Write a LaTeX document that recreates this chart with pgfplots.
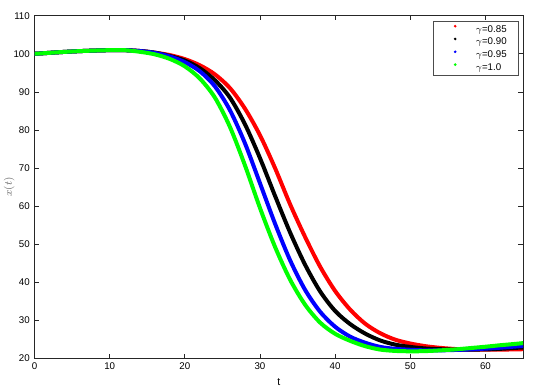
\documentclass[border=0pt]{standalone}
\usepackage{pgfplots}
\pgfplotsset{compat=1.18}
\usepackage{fontspec}
\setmainfont{Liberation Sans}
\usetikzlibrary{calc}
\begin{document}
\begin{tikzpicture}
\begin{axis}[
  scale only axis,
  width=366.4pt, height=257pt,
  xmin=0, xmax=65, ymin=20, ymax=110,
  xtick={0,10,...,60}, ytick={20,30,...,110},
  tick align=inside,
  major tick length=3.5pt,
  minor tick num=0,
  axis line style={line width=0.6pt, black!85},
  every tick/.style={black!85, line width=0.5pt},
  tick label style={font=\fontsize{7.3}{8}\selectfont},
  /pgf/number format/assume math mode=true,
  xlabel={t}, ylabel={$x(t)$},
  xlabel style={font=\fontsize{8}{9}\selectfont, yshift=0pt},
  ylabel style={font=\fontsize{8.5}{9}\selectfont, text=black!60,
    at={(axis description cs:-0.052,0.5)}, anchor=center},
  legend style={at={(rel axis cs:1,1)}, anchor=north east, xshift=-3pt, yshift=-4pt,
    draw=black!70, line width=0.5pt, font=\fontsize{7.3}{8}\selectfont,
    row sep=2.6pt, inner xsep=0pt, inner ysep=2.5pt,
    nodes={inner sep=0pt}},
  legend cell align=left,
]
\addlegendimage{legend image code/.code={\path[draw=none] (0pt,0pt) -- (32pt,0pt); \fill[red, draw=none] (16.5pt,2.6pt) circle (1.1pt);}}
\addlegendentry{$\gamma$=0.85\hspace*{9pt}}
\addlegendimage{legend image code/.code={\path[draw=none] (0pt,0pt) -- (32pt,0pt); \fill[black, draw=none] (16.5pt,2.6pt) circle (1.1pt);}}
\addlegendentry{$\gamma$=0.90\hspace*{9pt}}
\addlegendimage{legend image code/.code={\path[draw=none] (0pt,0pt) -- (32pt,0pt); \fill[blue, draw=none] (16.5pt,2.6pt) circle (1.1pt);}}
\addlegendentry{$\gamma$=0.95\hspace*{9pt}}
\addlegendimage{legend image code/.code={\path[draw=none] (0pt,0pt) -- (32pt,0pt); \fill[green, draw=none] (16.5pt,2.6pt) circle (1.1pt);}}
\addlegendentry{$\gamma$=1.0\hspace*{9pt}}
\addplot[red, line width=3pt, smooth, forget plot] coordinates {
(0,100.0)(2,100.25)(4,100.5)(6,100.7)(8,100.85)(10,100.95)(12,100.95)(14,100.74)(16,100.3)(18,99.66)(20,98.6)(22,96.98)(24,94.6)(26,91.0)(28,85.6)(30,78.6)(32,70.0)(34,60.5)(36,51.9)(38,44.1)(40,37.7)(42,32.8)(44,29.1)(46,26.6)(48,24.9)(50,23.9)(52,23.2)(54,22.75)(56,22.45)(58,22.3)(60,22.3)(62,22.3)(64,22.35)(65,22.4)
};
\addplot[black, line width=3pt, smooth, forget plot] coordinates {
(0,100.0)(2,100.25)(4,100.5)(6,100.7)(8,100.85)(10,100.95)(12,100.95)(14,100.73)(16,100.3)(18,99.43)(20,98.24)(22,96.2)(24,93.07)(26,88.5)(28,81.5)(30,72.6)(32,62.7)(34,53.1)(36,44.6)(38,37.6)(40,32.45)(42,29.0)(44,26.5)(46,24.7)(48,23.6)(50,23.0)(52,22.6)(54,22.4)(56,22.3)(58,22.3)(60,22.35)(62,22.5)(64,22.75)(65,22.85)
};
\addplot[blue, line width=3pt, smooth, forget plot] coordinates {
(0,100.0)(2,100.25)(4,100.5)(6,100.7)(8,100.85)(10,100.95)(12,100.95)(14,100.73)(16,100.23)(18,99.3)(20,97.8)(22,95.4)(24,91.45)(26,85.2)(28,76.5)(30,66.0)(32,55.4)(34,45.8)(36,38.0)(38,32.25)(40,28.3)(42,25.7)(44,24.1)(46,23.0)(48,22.5)(50,22.25)(52,22.1)(54,22.1)(56,22.2)(58,22.35)(60,22.55)(62,22.8)(64,23.1)(65,23.25)
};
\addplot[green, line width=3pt, smooth, forget plot] coordinates {
(0,100.0)(2,100.25)(4,100.5)(6,100.7)(8,100.85)(10,100.95)(12,100.95)(14,100.53)(16,99.86)(18,98.65)(20,96.7)(22,93.5)(24,88.5)(26,80.8)(28,70.7)(30,59.5)(32,49.3)(34,40.7)(36,34.1)(38,29.4)(40,26.45)(42,24.6)(44,23.2)(46,22.3)(48,21.95)(50,21.85)(52,21.9)(54,22.1)(56,22.35)(58,22.7)(60,23.05)(62,23.45)(64,23.8)(65,24.0)
};
\end{axis}
\pgfresetboundingbox
\path[use as bounding box] ($(current axis.south west)+(-25.9pt,-23.8pt)$) rectangle ($(current axis.north east)+(9pt,11.8pt)$);
\end{tikzpicture}
\end{document}
